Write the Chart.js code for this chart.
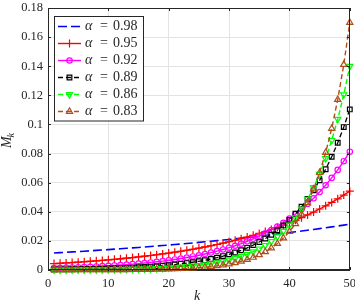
<!DOCTYPE html>
<html>
<head>
<meta charset="utf-8">
<script src="https://cdn.jsdelivr.net/npm/chart.js@4.4.0/dist/chart.umd.min.js"></script>
<style>
	html, body { margin: 0; padding: 0; background: #fff; }
	#wrap { width: 355px; height: 302px; }
</style>
</head>
<body>
<div id="wrap"><canvas id="CanvasMk" width="355" height="302"></canvas></div>
<script>
var ks = [1, 2, 3, 4, 5, 6, 7, 8, 9, 10, 11, 12, 13, 14, 15, 16, 17, 18, 19, 20,
	21, 22, 23, 24, 25, 26, 27, 28, 29, 30, 31, 32, 33, 34, 35, 36, 37, 38, 39, 40,
	41, 42, 43, 44, 45, 46, 47, 48, 49, 50];

var alphas = ['0.98', '0.95', '0.92', '0.89', '0.86', '0.83'];

var mk098 = [0.01169, 0.01193, 0.01217, 0.01242, 0.01267, 0.01293, 0.01320, 0.01347, 0.01374, 0.01402,
	0.01431, 0.01460, 0.01490, 0.01520, 0.01551, 0.01583, 0.01615, 0.01648, 0.01682, 0.01716,
	0.01751, 0.01787, 0.01823, 0.01860, 0.01898, 0.01937, 0.01977, 0.02017, 0.02058, 0.02100,
	0.02143, 0.02187, 0.02231, 0.02277, 0.02323, 0.02371, 0.02419, 0.02469, 0.02519, 0.02570,
	0.02623, 0.02676, 0.02731, 0.02787, 0.02843, 0.02901, 0.02961, 0.03021, 0.03083, 0.03146];
var mk095 = [0.00439, 0.00462, 0.00486, 0.00512, 0.00539, 0.00567, 0.00597, 0.00628, 0.00661, 0.00696,
	0.00733, 0.00771, 0.00812, 0.00855, 0.00900, 0.00947, 0.00997, 0.01049, 0.01105, 0.01163,
	0.01224, 0.01288, 0.01356, 0.01427, 0.01503, 0.01582, 0.01665, 0.01753, 0.01845, 0.01942,
	0.02044, 0.02152, 0.02265, 0.02384, 0.02510, 0.02642, 0.02781, 0.02927, 0.03081, 0.03243,
	0.03414, 0.03594, 0.03783, 0.03982, 0.04191, 0.04412, 0.04644, 0.04889, 0.05146, 0.05417];
var mk092 = [0.00137, 0.00148, 0.00161, 0.00175, 0.00191, 0.00207, 0.00225, 0.00245, 0.00266, 0.00289,
	0.00314, 0.00342, 0.00372, 0.00404, 0.00439, 0.00477, 0.00519, 0.00564, 0.00613, 0.00666,
	0.00724, 0.00787, 0.00855, 0.00930, 0.01011, 0.01098, 0.01194, 0.01298, 0.01411, 0.01533,
	0.01667, 0.01812, 0.01969, 0.02140, 0.02326, 0.02529, 0.02749, 0.02988, 0.03247, 0.03530,
	0.03837, 0.04170, 0.04533, 0.04927, 0.05356, 0.05821, 0.06327, 0.06878, 0.07476, 0.08126];
var mk089 = [0.00037, 0.00041, 0.00046, 0.00052, 0.00058, 0.00065, 0.00074, 0.00083, 0.00093, 0.00104,
	0.00117, 0.00132, 0.00148, 0.00166, 0.00187, 0.00210, 0.00236, 0.00265, 0.00298, 0.00334,
	0.00376, 0.00422, 0.00474, 0.00533, 0.00599, 0.00673, 0.00756, 0.00850, 0.00955, 0.01073,
	0.01205, 0.01354, 0.01522, 0.01710, 0.01921, 0.02158, 0.02425, 0.02725, 0.03062, 0.03440,
	0.03865, 0.04343, 0.04880, 0.05483, 0.06161, 0.06922, 0.07778, 0.08739, 0.09819, 0.11033];
var mk086 = [0.00009, 0.00010, 0.00012, 0.00014, 0.00016, 0.00018, 0.00021, 0.00025, 0.00029, 0.00034,
	0.00039, 0.00045, 0.00053, 0.00061, 0.00071, 0.00083, 0.00097, 0.00112, 0.00131, 0.00152,
	0.00177, 0.00205, 0.00239, 0.00278, 0.00323, 0.00375, 0.00436, 0.00507, 0.00590, 0.00686,
	0.00798, 0.00928, 0.01079, 0.01254, 0.01458, 0.01696, 0.01972, 0.02293, 0.02666, 0.03100,
	0.03604, 0.04191, 0.04874, 0.05667, 0.06589, 0.07662, 0.08910, 0.10360, 0.12046, 0.14007];
var mk083 = [0.00002, 0.00002, 0.00003, 0.00003, 0.00004, 0.00005, 0.00006, 0.00007, 0.00008, 0.00010,
	0.00012, 0.00014, 0.00017, 0.00021, 0.00025, 0.00030, 0.00036, 0.00044, 0.00053, 0.00064,
	0.00077, 0.00092, 0.00111, 0.00134, 0.00161, 0.00194, 0.00234, 0.00282, 0.00340, 0.00409,
	0.00493, 0.00594, 0.00716, 0.00862, 0.01039, 0.01252, 0.01508, 0.01817, 0.02190, 0.02638,
	0.03178, 0.03829, 0.04614, 0.05559, 0.06697, 0.08069, 0.09721, 0.11712, 0.14111, 0.17002];

var xTicks = [0, 10, 20, 30, 40, 50];
var yTicks = [0, 0.02, 0.04, 0.06, 0.08, 0.1, 0.12, 0.14, 0.16, 0.18];

var serif = "'Liberation Serif', 'Times New Roman', serif";
var axisColor = '#262626';

function ToPoints(values) {
	var pts = [];
	for (var i = 0; i < values.length; i++) {
		pts.push({ x: ks[i], y: values[i] });
	}
	return pts;
}

// series styles (MATLAB look)
var styles = [
	{ data: mk098, color: '#0000ff', dash: [9, 4], width: 1.6, marker: false, radius: 0, rot: 0 },
	{ data: mk095, color: '#ff0000', dash: [], width: 1.4, marker: 'cross', radius: 4, rot: 0 },
	{ data: mk092, color: '#ff00ff', dash: [], width: 1.4, marker: 'circle', radius: 2.7, rot: 0 },
	{ data: mk089, color: '#000000', dash: [5, 3], width: 1.3, marker: 'rect', radius: 3.3, rot: 0 },
	{ data: mk086, color: '#00ff00', dash: [5, 3], width: 1.4, marker: 'triangle', radius: 3.6, rot: 180 },
	{ data: mk083, color: '#b04e1c', dash: [5, 3], width: 1.4, marker: 'triangle', radius: 3.6, rot: 0 }
];

var datasets = [];
for (var i = 0; i < styles.length; i++) {
	var s = styles[i];
	datasets.push({
		label: '\u03b1 = ' + alphas[i],
		data: ToPoints(s.data),
		borderColor: s.color,
		borderWidth: s.width,
		borderDash: s.dash,
		pointStyle: s.marker,
		pointRadius: s.radius,
		pointRotation: s.rot,
		pointBorderColor: s.color,
		pointBorderWidth: 1.2,
		pointBackgroundColor: 'rgba(0,0,0,0)',
		pointHoverRadius: s.radius,
		fill: false,
		tension: 0,
		clip: false,
		order: styles.length - i
	});
}

// draw a legend marker the same way Chart.js does
function DrawMark(ctx, style, x, y, r, rot) {
	var rad = rot * Math.PI / 180;
	ctx.beginPath();
	if (style === 'circle') {
		ctx.arc(x, y, r, 0, Math.PI * 2);
	} else if (style === 'rect') {
		var h = r * Math.SQRT1_2;
		ctx.rect(x - h, y - h, 2 * h, 2 * h);
	} else if (style === 'cross') {
		ctx.moveTo(x, y - r); ctx.lineTo(x, y + r);
		ctx.moveTo(x - r, y); ctx.lineTo(x + r, y);
	} else if (style === 'triangle') {
		ctx.moveTo(x + Math.sin(rad) * r, y - Math.cos(rad) * r);
		rad += Math.PI * 2 / 3;
		ctx.lineTo(x + Math.sin(rad) * r, y - Math.cos(rad) * r);
		rad += Math.PI * 2 / 3;
		ctx.lineTo(x + Math.sin(rad) * r, y - Math.cos(rad) * r);
		ctx.closePath();
	}
	ctx.stroke();
}

var boxPlugin = {
	id: 'boxPlugin',
	afterDatasetsDraw: function (chart) {
		var ctx = chart.ctx;
		var a = chart.chartArea;
		var xs = chart.scales.x, ys = chart.scales.y;
		ctx.save();
		ctx.strokeStyle = axisColor;
		ctx.lineWidth = 1;
		ctx.strokeRect(Math.round(a.left) + 0.5, Math.round(a.top) + 0.5, Math.round(a.right - a.left) - 1, Math.round(a.bottom - a.top) - 1);
		ctx.beginPath();
		for (var i = 0; i < xTicks.length; i++) {
			var px = Math.round(xs.getPixelForValue(xTicks[i])) + 0.5;
			ctx.moveTo(px, a.bottom); ctx.lineTo(px, a.bottom - 3);
			ctx.moveTo(px, a.top); ctx.lineTo(px, a.top + 3);
		}
		for (var j = 0; j < yTicks.length; j++) {
			var py = Math.round(ys.getPixelForValue(yTicks[j])) + 0.5;
			ctx.moveTo(a.left, py); ctx.lineTo(a.left + 3, py);
			ctx.moveTo(a.right, py); ctx.lineTo(a.right - 3, py);
		}
		ctx.stroke();
		ctx.restore();
	},
	afterDraw: function (chart) {
		var ctx = chart.ctx;
		ctx.save();
		// legend box
		ctx.fillStyle = '#ffffff';
		ctx.fillRect(54.5, 16.5, 89, 104.5);
		ctx.strokeStyle = axisColor;
		ctx.lineWidth = 1;
		ctx.strokeRect(54.5, 16.5, 89, 104.5);
		for (var i = 0; i < styles.length; i++) {
			var s = styles[i];
			var y = 26.5 + i * 17;
			ctx.strokeStyle = s.color;
			ctx.lineWidth = s.width;
			ctx.setLineDash(s.dash);
			ctx.beginPath();
			ctx.moveTo(58, y); ctx.lineTo(81, y);
			ctx.stroke();
			ctx.setLineDash([]);
			if (s.marker) {
				ctx.lineWidth = 1.2;
				DrawMark(ctx, s.marker, 69.5, y, s.radius, s.rot);
			}
			ctx.fillStyle = axisColor;
			ctx.textBaseline = 'middle';
			ctx.textAlign = 'left';
			ctx.font = 'italic 14px ' + serif;
			ctx.fillText('\u03b1', 85, y);
			ctx.font = '14px ' + serif;
			ctx.fillText('=', 100, y);
			ctx.fillText(alphas[i], 113, y);
		}
		// axis titles
		ctx.fillStyle = axisColor;
		ctx.font = 'italic 14px ' + serif;
		ctx.textAlign = 'center';
		ctx.textBaseline = 'alphabetic';
		ctx.fillText('k', 197, 300);

		ctx.translate(10.5, 140);
		ctx.rotate(-Math.PI / 2);
		ctx.font = 'italic 14px ' + serif;
		var wM = ctx.measureText('M').width;
		ctx.font = 'italic 10px ' + serif;
		var wk = ctx.measureText('k').width;
		var x0 = -(wM + wk) / 2;
		ctx.textAlign = 'left';
		ctx.font = 'italic 14px ' + serif;
		ctx.fillText('M', x0, 0);
		ctx.font = 'italic 10px ' + serif;
		ctx.fillText('k', x0 + wM - 1, 3);
		ctx.strokeStyle = axisColor;
		ctx.lineWidth = 0.8;
		ctx.beginPath();
		ctx.moveTo(x0 + 2, -11.5); ctx.lineTo(x0 + wM, -11.5);
		ctx.stroke();
		ctx.restore();
	}
};

const context = document.getElementById('CanvasMk');
const myChart = new Chart(context, {
	type: 'line',
	data: { datasets: datasets },
	options: {
		responsive: false,
		animation: false,
		devicePixelRatio: 1,
		layout: { padding: { top: 8, right: 5, left: 0, bottom: 0 } },
		plugins: {
			legend: { display: false },
			tooltip: { enabled: false }
		},
		scales: {
			x: {
				type: 'linear',
				min: 0,
				max: 50,
				afterBuildTicks: function (scale) {
					scale.ticks = xTicks.map(function (v) { return { value: v }; });
				},
				afterFit: function (scale) {
					scale.height = 32;
					scale.paddingLeft = 0;
					scale.paddingRight = 0;
				},
				grid: { color: '#e3e3e3', drawTicks: false, tickLength: 0 },
				border: { display: true, color: axisColor },
				ticks: {
					padding: 6,
					color: axisColor,
					font: { family: serif, size: 12.5 },
					maxRotation: 0,
					callback: function (v) { return String(v); }
				}
			},
			y: {
				type: 'linear',
				min: 0,
				max: 0.18,
				afterBuildTicks: function (scale) {
					scale.ticks = yTicks.map(function (v) { return { value: v }; });
				},
				afterFit: function (scale) {
					scale.width = 48;
					scale.paddingTop = 0;
					scale.paddingBottom = 0;
				},
				grid: { color: '#e3e3e3', drawTicks: false, tickLength: 0 },
				border: { display: true, color: axisColor },
				ticks: {
					padding: 5,
					color: axisColor,
					font: { family: serif, size: 12.5 },
					callback: function (v) { return String(Number(v.toFixed(2))); }
				}
			}
		}
	},
	plugins: [boxPlugin]
});
</script>
</body>
</html>
